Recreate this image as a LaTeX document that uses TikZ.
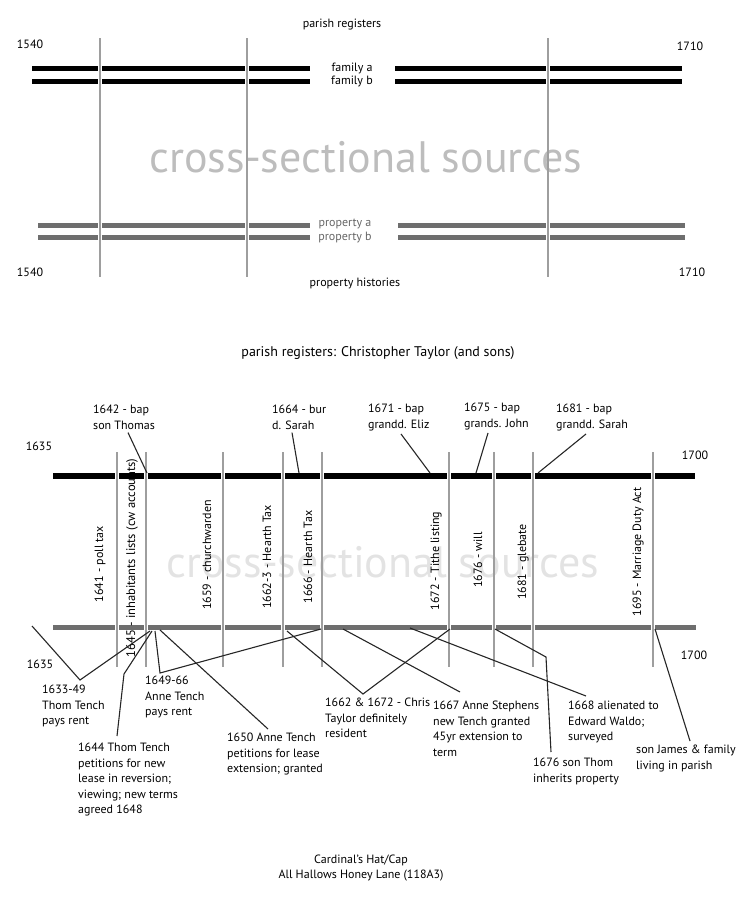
\documentclass[tikz,border=0pt]{standalone}
\usepackage{fontspec}
\setmainfont{PT Sans}
\usetikzlibrary{calc}

\begin{document}
\begin{tikzpicture}[
  x=1pt,y=-1pt,
  font=\fontsize{12}{15.5}\selectfont,
  famline/.style={draw=black,line width=5pt},
  propline/.style={draw=black!57,line width=5pt},
  gap/.style={draw=white,line width=4.5pt},
  era/.style={draw=black!38,line width=1.6pt},
  link/.style={draw=black!85,line width=1.1pt},
  tag/.style={align=left,anchor=north west,inner sep=0pt},
  note/.style={align=left,anchor=north west,inner sep=0pt},
  source/.style={rotate=90,inner sep=0pt},
  ghost/.style={font=\fontsize{44}{44}\selectfont}
]
\useasboundingbox (0,0) rectangle (753,905);

% Overview: two kinds of lifelines cut by occasional snapshots.
\node (reg) at (342,25) {parish registers};
\node (ya1) at (30,44) {1540};
\node (yb1) at (690,46) {1710};
\node[ghost,text=black!26] (xs1) at (366,157) {cross-sectional sources};
\draw[famline] (32,68) -- (310,68) (395,68) -- (682,68);
\draw[famline] (32,81) -- (310,81) (395,81) -- (682,81);
\draw[propline] (38,225) -- (310,225) (398,225) -- (685,225);
\draw[propline] (38,237) -- (310,237) (398,237) -- (685,237);
\draw[gap] (100,63) -- (100,86) (247,63) -- (247,86) (548,63) -- (548,86);
\draw[gap] (100,220) -- (100,242) (247,220) -- (247,242) (548,220) -- (548,242);
\draw[era] (100,38) -- (100,277) (247,38) -- (247,277) (548,38) -- (548,277);
\node (fa) at (352,68) {family a};
\node (fb) at (352,81) {family b};
\node[text=black!60] (pa) at (345,224) {property a};
\node[text=black!60] (pb) at (345,238) {property b};
\node (ya2) at (30,272) {1540};
\node (yb2) at (692,272) {1710};
\node (hist) at (355,283) {property histories};

% Case study: Christopher Taylor against the property record.
\node[font=\fontsize{14}{16}\selectfont] (title) at (378,353) {parish registers: Christopher Taylor (and sons)};
\node (yc1) at (39,446) {1635};
\node (yd1) at (695,455) {1700};
\node[ghost,text=black!11] (xs2) at (383,562) {cross-sectional sources};
\draw[famline,line width=6pt] (53,476) -- (695,476);
\draw[propline] (53,627) -- (696,627);
\draw[gap] (117,471) -- (117,481) (146,471) -- (146,481) (223,471) -- (223,481)
  (283,471) -- (283,481) (322,471) -- (322,481) (449,471) -- (449,481)
  (494,471) -- (494,481) (533,471) -- (533,481) (653,471) -- (653,481);
\draw[gap] (117,622) -- (117,632) (146,622) -- (146,632) (223,622) -- (223,632)
  (283,622) -- (283,632) (322,622) -- (322,632) (449,622) -- (449,632)
  (494,622) -- (494,632) (533,622) -- (533,632) (653,622) -- (653,632);
\draw[era] (117,452) -- (117,667) (146,452) -- (146,667) (223,452) -- (223,667)
  (283,452) -- (283,667) (322,452) -- (322,667) (449,452) -- (449,667)
  (494,452) -- (494,667) (533,452) -- (533,667) (653,452) -- (653,667);
\node (yc2) at (40,664) {1635};
\node (yd2) at (694,655) {1700};

% snapshot sources between the two lines
\node[source] (s1641) at (100,564) {1641 - poll tax};
\node[source,font=\fontsize{12.5}{15}\selectfont] (s1645) at (132,558) {1645 - inhabitants lists (cw accounts)};
\node[source] (s1659) at (207,555) {1659 - churchwarden};
\node[source] (s1662) at (267,557) {1662-3 - Hearth Tax};
\node[source] (s1666) at (308,557) {1666 - Hearth Tax};
\node[source] (s1672) at (436,561) {1672 - Tithe listing};
\node[source] (s1676) at (478,560) {1676 - will};
\node[source] (s1681) at (523,562) {1681 - glebate};
\node[source] (s1695) at (638,552) {1695 - Marriage Duty Act};

% register events above the black line
\node[tag] (t1642) at (93,405) {1642 - bap\\son Thomas};
\node[tag] (t1664) at (272,405) {1664 - bur\\d. Sarah};
\node[tag] (t1671) at (368,404) {1671 - bap\\grandd. Eliz};
\node[tag] (t1675) at (464,403) {1675 - bap\\grands. John};
\node[tag] (t1681) at (556,404) {1681 - bap\\grandd. Sarah};
\coordinate (b1642) at (147,473);
\coordinate (b1664) at (299,473);
\coordinate (b1671) at (430,473);
\coordinate (b1675) at (476,473);
\coordinate (b1681) at (538,473);
\draw[link] ([xshift=35pt,yshift=-3pt]t1642.south west) -- (b1642);
\draw[link] ([xshift=20pt,yshift=-3pt]t1664.south west) -- (b1664);
\draw[link] ([xshift=33pt,yshift=-3pt]t1671.south west) -- (b1671);
\draw[link] ([xshift=24pt,yshift=-3pt]t1675.south west) -- (b1675);
\draw[link] ([xshift=30pt,yshift=-3pt]t1681.south west) -- (b1681);

% property events below the grey line
\node[note] (n1633) at (42,685) {1633-49\\Thom Tench\\pays rent};
\node[note] (n1644) at (78,743) {1644 Thom Tench\\petitions for new\\lease in reversion;\\viewing; new terms\\agreed 1648};
\node[note] (n1649) at (145,676) {1649-66\\Anne Tench\\pays rent};
\node[note] (n1650) at (227,733) {1650 Anne Tench\\petitions for lease\\extension; granted};
\node[note] (n1662) at (325,698) {1662 \& 1672 - Chris\\Taylor definitely\\resident};
\node[note] (n1667) at (433,701) {1667 Anne Stephens\\new Tench granted\\45yr extension to\\term};
\node[note] (n1668) at (568,701) {1668 alienated to\\Edward Waldo;\\surveyed};
\node[note] (n1676) at (533,758) {1676 son Thom\\inherits property};
\node[note] (nJames) at (636,745) {son James \& family\\living in parish};
\coordinate (g1633a) at (32,626);
\coordinate (g1633b) at (150,631);
\coordinate (g1644) at (152,631);
\coordinate (k1644) at (124,674);
\coordinate (g1649a) at (155,631);
\coordinate (g1649b) at (321,629);
\coordinate (g1650) at (160,630);
\coordinate (g1662) at (287,631);
\coordinate (g1672) at (450,629);
\coordinate (g1667) at (343,629);
\coordinate (g1668) at (410,628);
\coordinate (g1676) at (495,629);
\coordinate (k1676) at (546,657);
\coordinate (g1695) at (655,629);
\draw[link] (g1633a) -- ([xshift=38pt,yshift=5pt]n1633.north west) -- (g1633b);
\draw[link] (g1644) -- (k1644) -- ([xshift=39pt,yshift=7pt]n1644.north west);
\draw[link] (g1649a) -- ([xshift=15pt,yshift=3pt]n1649.north west) -- (g1649b);
\draw[link] (g1650) -- ([xshift=41pt,yshift=4pt]n1650.north west);
\draw[link] (g1662) -- ([xshift=38pt,yshift=4pt]n1662.north west) -- (g1672);
\draw[link] (g1667) -- ([xshift=27pt,yshift=9pt]n1667.north west);
\draw[link] (g1668) -- ([xshift=18pt,yshift=5pt]n1668.north west);
\draw[link] (g1676) -- (k1676) -- ([xshift=18pt,yshift=6pt]n1676.north west);
\draw[link] (g1695) -- ([xshift=54pt,yshift=4pt]nJames.north west);

\node[align=center] (place) at (361,868) {Cardinal's Hat/Cap\\All Hallows Honey Lane (118A3)};
\end{tikzpicture}
\end{document}
